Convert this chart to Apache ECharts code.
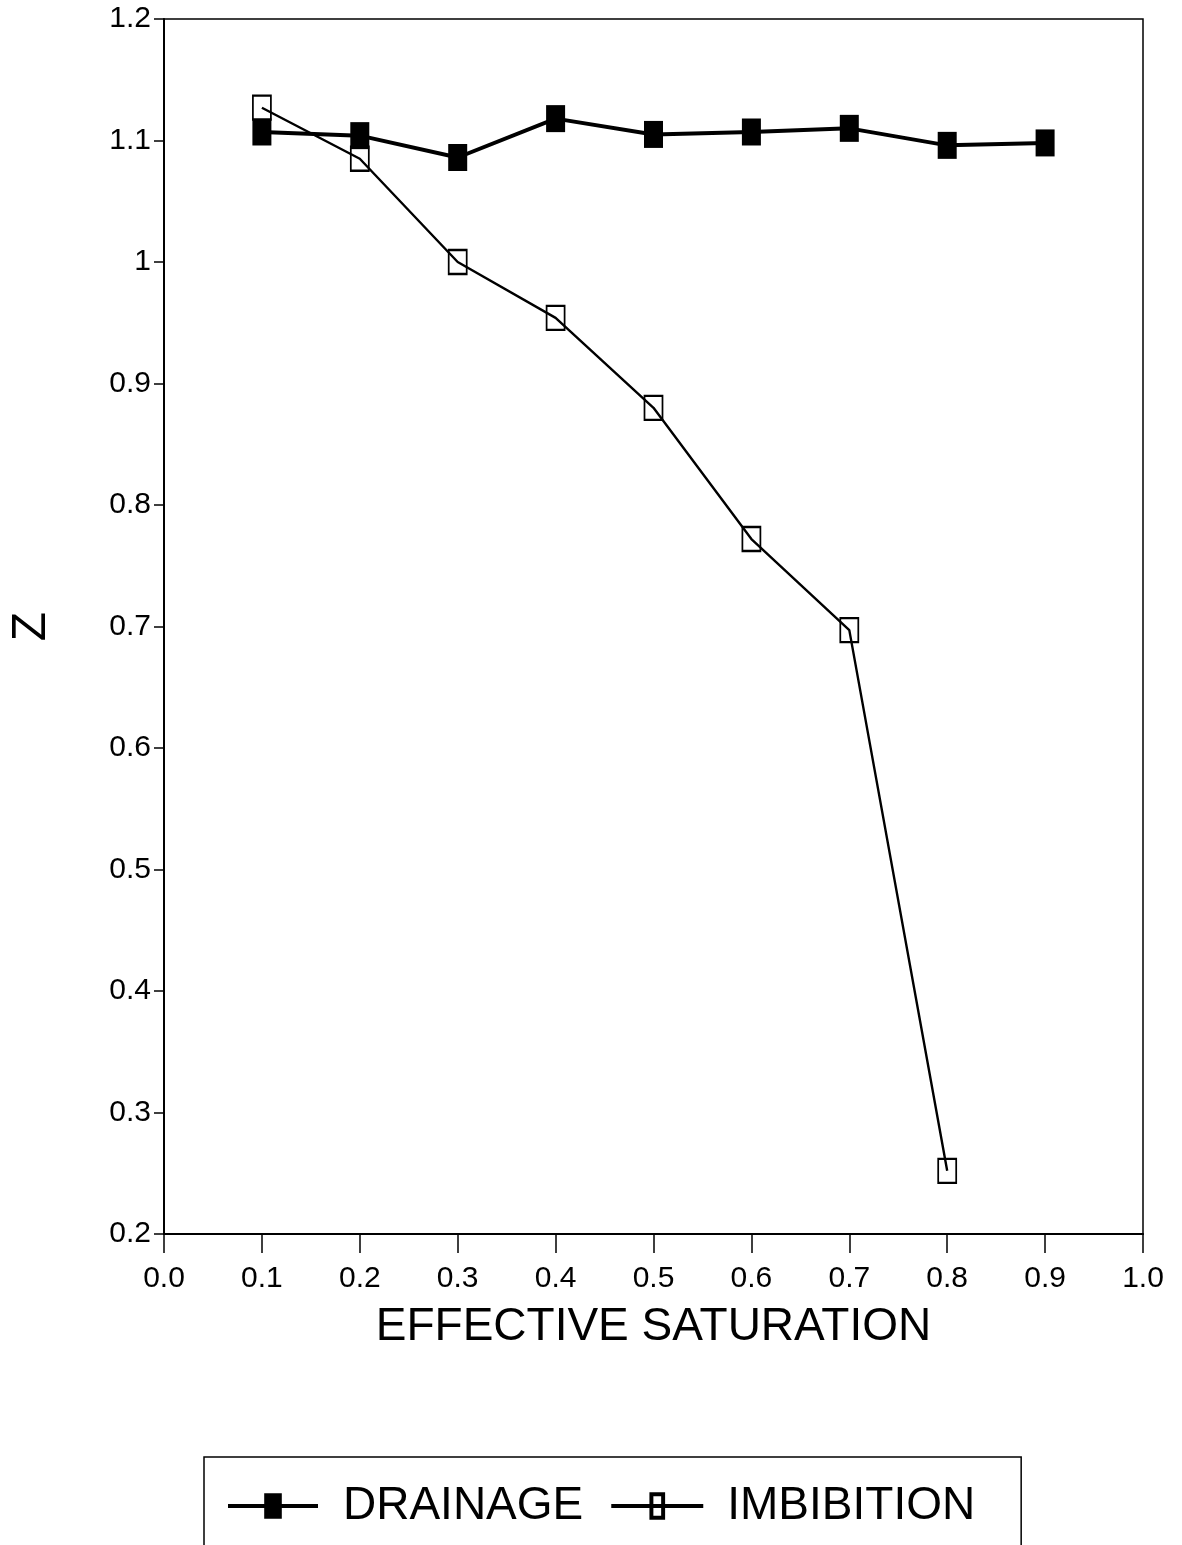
<!DOCTYPE html>
<html>
<head>
<meta charset="utf-8">
<title>Z vs Effective Saturation</title>
<script src="https://cdn.jsdelivr.net/npm/echarts@6/dist/echarts.min.js"></script>
<style>
  html, body { margin: 0; padding: 0; background: #fff; }
  #chart { width: 1182px; height: 1545px; }
</style>
</head>
<body>
<div id="chart"></div>
<script>
// Effective saturation values at which Z was measured
const saturation = [0.1, 0.2, 0.3, 0.4, 0.5, 0.6, 0.7, 0.8, 0.9];
// Z during drainage (all nine saturations)
const drainageZ = [1.107, 1.104, 1.086, 1.118, 1.105, 1.107, 1.110, 1.096, 1.098];
// Z during imbibition (0.1 .. 0.8)
const imbibitionZ = [1.127, 1.085, 1.000, 0.954, 0.880, 0.772, 0.697, 0.252];

const seriesNames = ['DRAINAGE', 'IMBIBITION'];
const xTitle = 'EFFECTIVE SATURATION';
const yTitle = 'Z';

const FONT = '"Liberation Sans", Arial, Helvetica, sans-serif';

function pairs(xs, ys) {
  return ys.map((y, i) => [xs[i], y]);
}

// Legend icons: line with a filled bar, and line with an open bar
const drainageIcon = 'path://M0 11H92V15H0Z M37 0H55V26H37Z';
const imbibitionIcon = 'path://M0 12H39V14H0Z M53 12H92V14H53Z ' +
  'M39 0H53V26H39Z M41 2V24H51V2Z M41 12H51V14H41Z';

const chart = echarts.init(document.getElementById('chart'), null, { renderer: 'canvas' });

chart.setOption({
  backgroundColor: '#ffffff',
  animation: false,
  textStyle: { fontFamily: FONT, color: '#000' },
  grid: {
    left: 156, right: 39, top: 19, bottom: 311,
    show: true,
    borderColor: '#000',
    borderWidth: 1.5,
    backgroundColor: 'transparent'
  },
  legend: {
    left: 204,
    top: 1457,
    orient: 'horizontal',
    padding: [26, 46, 60, 24],
    itemGap: 28,
    itemWidth: 90,
    itemHeight: 26,
    borderColor: '#000',
    borderWidth: 1.5,
    textStyle: { fontFamily: FONT, fontSize: 46, color: '#000', padding: [0, 0, 0, 20] },
    data: [
      { name: seriesNames[0], icon: drainageIcon, itemStyle: { color: '#000' } },
      { name: seriesNames[1], icon: imbibitionIcon, itemStyle: { color: '#000' } }
    ]
  },
  xAxis: {
    type: 'value',
    min: 0,
    max: 1,
    interval: 0.1,
    name: xTitle,
    nameLocation: 'middle',
    nameGap: 70,
    nameTextStyle: { fontFamily: FONT, fontSize: 46, color: '#000' },
    axisLine: { show: true, lineStyle: { color: '#000', width: 2 } },
    axisTick: { show: true, inside: false, length: 19, lineStyle: { color: '#000', width: 1.5 } },
    axisLabel: {
      fontFamily: FONT, fontSize: 30, color: '#000', margin: 30,
      formatter: v => v.toFixed(1)
    },
    splitLine: { show: false }
  },
  yAxis: {
    type: 'value',
    min: 0.2,
    max: 1.2,
    interval: 0.1,
    name: yTitle,
    nameLocation: 'middle',
    nameRotate: 90,
    nameGap: 108,
    nameTextStyle: { fontFamily: FONT, fontSize: 48, color: '#000' },
    axisLine: { show: true, lineStyle: { color: '#000', width: 2 } },
    axisTick: { show: true, inside: false, length: 10, lineStyle: { color: '#000', width: 1.5 } },
    axisLabel: {
      fontFamily: FONT, fontSize: 30, color: '#000', margin: 13,
      formatter: v => String(Math.round(v * 10) / 10)
    },
    splitLine: { show: false }
  },
  series: [
    {
      name: seriesNames[1],
      type: 'line',
      data: pairs(saturation, imbibitionZ),
      symbol: 'rect',
      symbolSize: [18, 24],
      lineStyle: { color: '#000', width: 2.4 },
      itemStyle: { color: 'rgba(0,0,0,0)', borderColor: '#000', borderWidth: 2 },
      z: 2
    },
    {
      name: seriesNames[0],
      type: 'line',
      data: pairs(saturation, drainageZ),
      symbol: 'rect',
      symbolSize: [19, 27],
      lineStyle: { color: '#000', width: 4 },
      itemStyle: { color: '#000', borderColor: '#000', borderWidth: 0 },
      z: 3
    }
  ]
});
</script>
</body>
</html>
